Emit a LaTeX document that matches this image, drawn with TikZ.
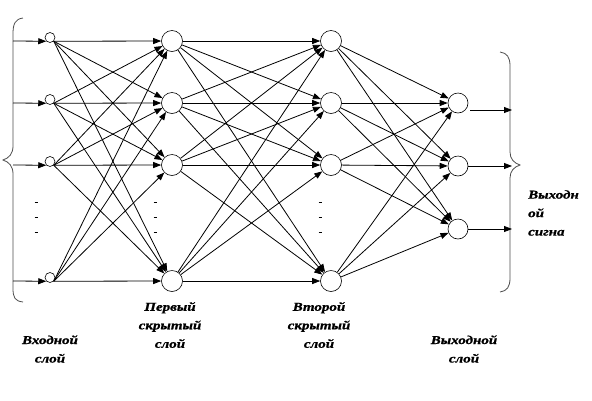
\documentclass[tikz,border=0pt]{standalone}
\usepackage{fontspec}
\newfontfamily\lblfont[FakeStretch=1.25, FakeBold=1]{Liberation Serif}
\usetikzlibrary{arrows.meta}

\begin{document}
\begin{tikzpicture}[
  x=1pt, y=-1pt,
  inp/.style={circle, draw, line width=0.6pt, inner sep=0pt, minimum size=10pt},
  neu/.style={circle, draw, line width=0.6pt, inner sep=0pt, minimum size=21pt},
  arr/.style={draw, line width=0.8pt, -{Triangle[length=8pt,width=6pt]}},
  brace/.style={draw=black!70, line width=0.8pt},
  lbl/.style={font=\lblfont\bfseries\itshape\fontsize{12}{18.5}\selectfont, align=center, inner sep=0pt}
]
\useasboundingbox (0,0) rectangle (592,400);

% input layer
\node[inp] (x1) at (50,37.5) {};
\node[inp] (x2) at (50,99.5) {};
\node[inp] (x3) at (50,161.5) {};
\node[inp] (x4) at (50,277.5) {};

% first hidden layer
\node[neu] (h1) at (172,41) {};
\node[neu] (h2) at (172,103) {};
\node[neu] (h3) at (172,165) {};
\node[neu] (h4) at (172,281) {};

% second hidden layer
\node[neu] (g1) at (331,41) {};
\node[neu] (g2) at (331,103) {};
\node[neu] (g3) at (331,165) {};
\node[neu] (g4) at (331,281) {};

% output layer
\node[neu, minimum size=20pt] (o1) at (458,103) {};
\node[neu, minimum size=20pt] (o2) at (458,166) {};
\node[neu, minimum size=20pt] (o3) at (458,229) {};

% braces
\draw[brace] (23,18) .. controls (15,19) and (13,24) .. (13,34)
  -- (13,146) .. controls (13,154) and (9,158) .. (3,160)
  .. controls (9,162) and (13,166) .. (13,174)
  -- (13,288) .. controls (13,298) and (15,301) .. (23,302);
\draw[brace] (500,52) .. controls (507,53) and (510,57) .. (510,66)
  -- (510,152) .. controls (510,159) and (514,163) .. (520,165)
  .. controls (514,167) and (510,171) .. (510,178)
  -- (510,278) .. controls (510,287) and (507,291) .. (500,292);

% signals in
\coordinate (s1) at (13,41);
\coordinate (s2) at (13,103);
\coordinate (s3) at (13,165);
\coordinate (s4) at (13,281);
\draw[arr] (s1) -- (x1.south west);
\draw[arr] (s2) -- (x2.south west);
\draw[arr] (s3) -- (x3.south west);
\draw[arr] (s4) -- (x4.south west);

% input -> first hidden
\draw (x1.south east) edge[arr] (h1) edge[arr] (h2) edge[arr] (h3) edge[arr] (h4);
\draw (x2.south east) edge[arr] (h1) edge[arr] (h2) edge[arr] (h3) edge[arr] (h4);
\draw (x3.south east) edge[arr] (h1) edge[arr] (h2) edge[arr] (h3) edge[arr] (h4);
\draw (x4.south east) edge[arr] (h1) edge[arr] (h2) edge[arr] (h3) edge[arr] (h4);

% first hidden -> second hidden
\draw (h1) edge[arr] (g1) edge[arr] (g2) edge[arr] (g3) edge[arr] (g4);
\draw (h2) edge[arr] (g1) edge[arr] (g2) edge[arr] (g3) edge[arr] (g4);
\draw (h3) edge[arr] (g1) edge[arr] (g2) edge[arr] (g3) edge[arr] (g4);
\draw (h4) edge[arr] (g1) edge[arr] (g2) edge[arr] (g3) edge[arr] (g4);

% second hidden -> output
\draw (g1) edge[arr] (o1) edge[arr] (o2) edge[arr] (o3);
\draw (g2) edge[arr] (o1) edge[arr] (o2) edge[arr] (o3);
\draw (g3) edge[arr] (o1) edge[arr] (o2) edge[arr] (o3);
\draw (g4) edge[arr] (o1) edge[arr] (o2) edge[arr] (o3);

% signals out
\coordinate (y1) at (512,110);
\coordinate (y2) at (512,166);
\coordinate (y3) at (512,229);
\draw[arr] ([xshift=2pt,yshift=-7pt]o1.east) -- (y1);
\draw[arr] (o2) -- (y2);
\draw[arr] (o3) -- (y3);

% dots
\draw[line width=0.6pt] (34.5,202) -- (37.5,202) (34.5,217) -- (37.5,217) (34.5,232) -- (37.5,232);
\draw[line width=0.6pt] (153.5,202) -- (156.5,202) (153.5,217) -- (156.5,217) (153.5,232) -- (156.5,232);
\draw[line width=0.6pt] (318.5,202) -- (321.5,202) (318.5,217) -- (321.5,217) (318.5,232) -- (321.5,232);

% labels
\node[lbl] (lin) at (50,349) {Входной\\слой};
\node[lbl] (lh1) at (170,325) {Первый\\скрытый\\слой};
\node[lbl] (lh2) at (319,325) {Второй\\скрытый\\слой};
\node[lbl] (lout) at (464,349) {Выходной\\слой};
\node[lbl, align=left, anchor=west] (lsig) at (528,213) {Выходн\\ой\\сигна};
\end{tikzpicture}
\end{document}
